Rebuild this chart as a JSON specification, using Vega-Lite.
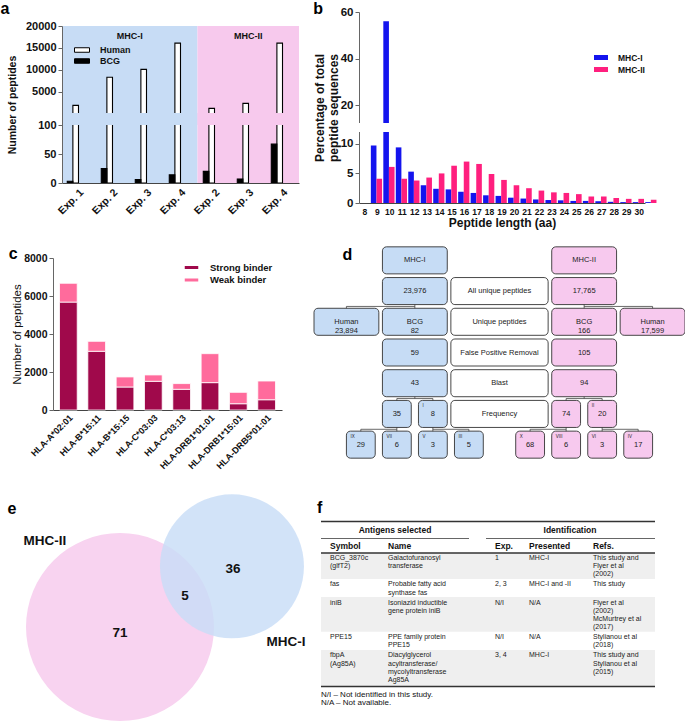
{
"$schema": "https://vega.github.io/schema/vega-lite/v6.json",
"background": "white",
"padding": 0,
"config": {
  "font": "Liberation Sans",
  "view": {"stroke": null},
  "axis": {"labelFont": "Liberation Sans", "titleFont": "Liberation Sans", "labelFontWeight": "bold", "titleFontWeight": "bold", "labelColor": "#111", "titleColor": "#111", "domainColor": "#666", "tickColor": "#666", "grid": false, "tickSize": 4, "labelPadding": 2},
  "legend": {"labelFont": "Liberation Sans", "labelFontWeight": "bold", "labelColor": "#111", "padding": 0},
  "title": {"font": "Liberation Sans", "fontSize": 16, "fontWeight": "bold", "anchor": "start", "frame": "bounds", "color": "#000"},
  "text": {"font": "Liberation Sans"}
},
"datasets": {
  "abg": [{"grp": "MHC-I", "start": 0, "end": 4, "mid": 2}, {"grp": "MHC-II", "start": 4, "end": 7, "mid": 5.5}],
  "abars": [
    {"key": "I1", "species": "Human", "value": 1900}, {"key": "I1", "species": "BCG", "value": 3},
    {"key": "I2", "species": "Human", "value": 8300}, {"key": "I2", "species": "BCG", "value": 25},
    {"key": "I3", "species": "Human", "value": 10100}, {"key": "I3", "species": "BCG", "value": 6},
    {"key": "I4", "species": "Human", "value": 16100}, {"key": "I4", "species": "BCG", "value": 14},
    {"key": "II2", "species": "Human", "value": 1200}, {"key": "II2", "species": "BCG", "value": 20},
    {"key": "II3", "species": "Human", "value": 2350}, {"key": "II3", "species": "BCG", "value": 7},
    {"key": "II4", "species": "Human", "value": 16100}, {"key": "II4", "species": "BCG", "value": 67}
  ]
},
"columns": 1, "align": "none", "spacing": 16,
"resolve": {"scale": {"color": "independent", "fill": "independent", "opacity": "independent", "size": "independent"}, "legend": {"color": "independent", "fill": "independent", "opacity": "independent", "size": "independent"}},
"concat": [
 {"columns": 2, "align": "none", "spacing": 14,
  "resolve": {"scale": {"color": "independent", "fill": "independent", "opacity": "independent", "size": "independent"}, "legend": {"color": "independent", "fill": "independent", "opacity": "independent", "size": "independent"}},
  "concat": [
  {
   "title": {"text": "a", "offset": -4.5, "dx": -7},
   "width": 237, "height": 171,
   "resolve": {"scale": {"x": "independent"}},
   "layer": [
    {"data": {"name": "abg"}, "mark": {"type": "rect"},
     "encoding": {
      "x": {"field": "start", "type": "quantitative", "scale": {"domain": [0, 7], "nice": false, "zero": false}, "axis": null},
      "x2": {"field": "end"},
      "y": {"datum": 0, "type": "quantitative", "scale": {"domain": [0, 100, 150, 20000], "range": [171, 113, 101, 14], "nice": false, "zero": false},
            "axis": {"values": [0, 50, 100, 5000, 10000, 15000, 20000], "format": "d", "title": "Number of peptides", "titleFontSize": 10.5, "labelFontSize": 11, "zindex": 1, "titlePadding": 8}},
      "y2": {"datum": 20000},
      "color": {"field": "grp", "type": "nominal", "scale": {"domain": ["MHC-I", "MHC-II"], "range": ["#c7dcf5", "#f7c9ed"]}, "legend": null}
     }},
    {"data": {"name": "abars"}, "mark": {"type": "bar", "stroke": "#000", "strokeWidth": 1.1},
     "encoding": {
      "x": {"field": "key", "type": "nominal", "sort": ["I1", "I2", "I3", "I4", "II2", "II3", "II4"], "scale": {"paddingInner": 0.34, "paddingOuter": 0.155},
            "axis": {"title": null, "labelAngle": -45, "labelExpr": "'Exp. ' + slice(datum.value, -1)", "ticks": false, "labelFontSize": 10.5, "domainColor": "#444", "zindex": 1, "labelPadding": 4}},
      "xOffset": {"field": "species", "type": "nominal", "sort": ["Human", "BCG"]},
      "y": {"field": "value", "type": "quantitative", "scale": {"domain": [0, 100, 150, 20000], "range": [171, 113, 101, 14], "nice": false, "zero": false},
            "axis": {"values": [0, 50, 100, 5000, 10000, 15000, 20000], "format": "d", "title": "Number of peptides", "titleFontSize": 10.5, "labelFontSize": 11, "zindex": 1, "titlePadding": 8}},
      "fill": {"field": "species", "type": "nominal", "scale": {"domain": ["Human", "BCG"], "range": ["#ffffff", "#000000"]},
               "legend": {"title": null, "orient": "none", "legendX": 14.5, "legendY": 32.5, "symbolType": "M-1.5,-0.45H1.5V0.45H-1.5Z", "symbolSize": 100, "symbolStrokeColor": "#000", "symbolStrokeWidth": 1, "labelFontSize": 9, "labelOffset": 12.5, "rowPadding": 0}}
     }},
    {"data": {"name": "abg"}, "mark": {"type": "rect"},
     "encoding": {
      "x": {"field": "start", "type": "quantitative", "scale": {"domain": [0, 7], "nice": false, "zero": false}, "axis": null},
      "x2": {"field": "end"},
      "y": {"datum": 100, "type": "quantitative",
            "axis": {"values": [0, 50, 100, 5000, 10000, 15000, 20000], "format": "d", "title": "Number of peptides", "titleFontSize": 10.5, "labelFontSize": 11, "zindex": 1, "titlePadding": 8}},
      "y2": {"datum": 150},
      "color": {"field": "grp", "type": "nominal", "legend": null}
     }},
    {"data": {"name": "abg"}, "mark": {"type": "text", "fontSize": 9, "fontWeight": "bold", "color": "#111"},
     "encoding": {
      "x": {"field": "mid", "type": "quantitative", "scale": {"domain": [0, 7], "nice": false, "zero": false}, "axis": null},
      "y": {"datum": 17700, "type": "quantitative",
            "axis": {"values": [0, 50, 100, 5000, 10000, 15000, 20000], "format": "d", "title": "Number of peptides", "titleFontSize": 10.5, "labelFontSize": 11, "zindex": 1, "titlePadding": 8}},
      "text": {"field": "grp"}
     }}
   ]
  },
  {
   "title": {"text": "b", "offset": -11},
   "width": 286, "height": 191,
   "resolve": {"scale": {"x": "independent"}},
   "layer": [
    {"data": {"values": [
      {"len": 8, "cls": "MHC-I", "pct": 9.7}, {"len": 9, "cls": "MHC-I", "pct": 56}, {"len": 10, "cls": "MHC-I", "pct": 9.4}, {"len": 11, "cls": "MHC-I", "pct": 5.3},
      {"len": 12, "cls": "MHC-I", "pct": 3.0}, {"len": 13, "cls": "MHC-I", "pct": 2.4}, {"len": 14, "cls": "MHC-I", "pct": 2.3}, {"len": 15, "cls": "MHC-I", "pct": 1.9},
      {"len": 16, "cls": "MHC-I", "pct": 1.7}, {"len": 17, "cls": "MHC-I", "pct": 1.3}, {"len": 18, "cls": "MHC-I", "pct": 1.2}, {"len": 19, "cls": "MHC-I", "pct": 0.9},
      {"len": 20, "cls": "MHC-I", "pct": 0.75}, {"len": 21, "cls": "MHC-I", "pct": 0.6}, {"len": 22, "cls": "MHC-I", "pct": 0.5}, {"len": 23, "cls": "MHC-I", "pct": 0.45},
      {"len": 24, "cls": "MHC-I", "pct": 0.35}, {"len": 25, "cls": "MHC-I", "pct": 0.35}, {"len": 26, "cls": "MHC-I", "pct": 0.3}, {"len": 27, "cls": "MHC-I", "pct": 0.2},
      {"len": 28, "cls": "MHC-I", "pct": 0.15}, {"len": 29, "cls": "MHC-I", "pct": 0.15}, {"len": 30, "cls": "MHC-I", "pct": 0.15},
      {"len": 8, "cls": "MHC-II", "pct": 4.1}, {"len": 9, "cls": "MHC-II", "pct": 6.1}, {"len": 10, "cls": "MHC-II", "pct": 4.1}, {"len": 11, "cls": "MHC-II", "pct": 3.8},
      {"len": 12, "cls": "MHC-II", "pct": 4.3}, {"len": 13, "cls": "MHC-II", "pct": 5.0}, {"len": 14, "cls": "MHC-II", "pct": 6.3}, {"len": 15, "cls": "MHC-II", "pct": 7.0},
      {"len": 16, "cls": "MHC-II", "pct": 6.6}, {"len": 17, "cls": "MHC-II", "pct": 4.9}, {"len": 18, "cls": "MHC-II", "pct": 3.9}, {"len": 19, "cls": "MHC-II", "pct": 3.0},
      {"len": 20, "cls": "MHC-II", "pct": 2.5}, {"len": 21, "cls": "MHC-II", "pct": 2.1}, {"len": 22, "cls": "MHC-II", "pct": 1.8}, {"len": 23, "cls": "MHC-II", "pct": 1.7},
      {"len": 24, "cls": "MHC-II", "pct": 1.5}, {"len": 25, "cls": "MHC-II", "pct": 1.1}, {"len": 26, "cls": "MHC-II", "pct": 1.1}, {"len": 27, "cls": "MHC-II", "pct": 0.85},
      {"len": 28, "cls": "MHC-II", "pct": 0.7}, {"len": 29, "cls": "MHC-II", "pct": 0.7}, {"len": 30, "cls": "MHC-II", "pct": 0.55}
     ]},
     "mark": {"type": "bar"},
     "encoding": {
      "x": {"field": "len", "type": "ordinal", "scale": {"paddingInner": 0.17, "paddingOuter": 0.05},
            "axis": {"title": "Peptide length (aa)", "labelAngle": 0, "ticks": false, "labelFontSize": 8.5, "titleFontSize": 12, "titlePadding": 2, "labelPadding": 4, "domainColor": "#444"}},
      "xOffset": {"field": "cls", "type": "nominal", "sort": ["MHC-I", "MHC-II"]},
      "y": {"field": "pct", "type": "quantitative", "scale": {"domain": [0, 12, 12.5, 60], "range": [191, 120, 111, 0], "nice": false, "zero": false},
            "axis": {"values": [0, 5, 10, 20, 40, 60], "title": ["Percentage of total", "peptide sequences"], "titleFontSize": 12, "labelFontSize": 11.5, "titlePadding": 0}},
      "color": {"field": "cls", "type": "nominal", "scale": {"domain": ["MHC-I", "MHC-II"], "range": ["#1414ee", "#ff1f7e"]},
                "legend": {"title": null, "orient": "none", "legendX": 236, "legendY": 39.5, "symbolType": "M-1.4,-0.5H1.4V0.5H-1.4Z", "symbolSize": 100, "labelFontSize": 8.5, "labelOffset": 11, "rowPadding": 1}}
     }},
    {"data": {"values": [{"gap": "break"}]}, "mark": {"type": "rect", "color": "white"},
     "encoding": {
      "x": {"datum": 0, "type": "quantitative", "scale": {"domain": [0, 1], "nice": false, "zero": false}, "axis": null},
      "x2": {"datum": 1},
      "y": {"datum": 12, "type": "quantitative",
            "axis": {"values": [0, 5, 10, 20, 40, 60], "title": ["Percentage of total", "peptide sequences"], "titleFontSize": 12, "labelFontSize": 11.5, "titlePadding": 0}},
      "y2": {"datum": 12.5}
     }}
   ]
  }
 ]},
 {"columns": 1, "align": "none", "spacing": 23,
  "resolve": {"scale": {"color": "independent", "fill": "independent", "opacity": "independent", "size": "independent"}, "legend": {"color": "independent", "fill": "independent", "opacity": "independent", "size": "independent"}},
  "concat": [
  {"columns": 2, "align": "none", "spacing": 22,
   "resolve": {"scale": {"color": "independent", "fill": "independent", "opacity": "independent", "size": "independent"}, "legend": {"color": "independent", "fill": "independent", "opacity": "independent", "size": "independent"}},
   "concat": [
   {
    "title": {"text": "c", "offset": -16.5, "dx": -3},
    "width": 220, "height": 165,
    "data": {"values": [
      {"allele": "HLA-A*02:01", "type": "Strong binder", "count": 5680}, {"allele": "HLA-A*02:01", "type": "Weak binder", "count": 990},
      {"allele": "HLA-B*15:11", "type": "Strong binder", "count": 3090}, {"allele": "HLA-B*15:11", "type": "Weak binder", "count": 525},
      {"allele": "HLA-B*15:15", "type": "Strong binder", "count": 1210}, {"allele": "HLA-B*15:15", "type": "Weak binder", "count": 530},
      {"allele": "HLA-C*03:03", "type": "Strong binder", "count": 1510}, {"allele": "HLA-C*03:03", "type": "Weak binder", "count": 335},
      {"allele": "HLA-C*03:13", "type": "Strong binder", "count": 1090}, {"allele": "HLA-C*03:13", "type": "Weak binder", "count": 300},
      {"allele": "HLA-DRB1*01:01", "type": "Strong binder", "count": 1440}, {"allele": "HLA-DRB1*01:01", "type": "Weak binder", "count": 1525},
      {"allele": "HLA-DRB1*15:01", "type": "Strong binder", "count": 330}, {"allele": "HLA-DRB1*15:01", "type": "Weak binder", "count": 600},
      {"allele": "HLA-DRB5*01:01", "type": "Strong binder", "count": 540}, {"allele": "HLA-DRB5*01:01", "type": "Weak binder", "count": 985}
    ]},
    "mark": {"type": "bar", "stroke": "white", "strokeWidth": 0.8},
    "encoding": {
     "x": {"field": "allele", "type": "nominal", "sort": ["HLA-A*02:01", "HLA-B*15:11", "HLA-B*15:15", "HLA-C*03:03", "HLA-C*03:13", "HLA-DRB1*01:01", "HLA-DRB1*15:01", "HLA-DRB5*01:01"],
           "scale": {"paddingInner": 0.375, "paddingOuter": 0.23, "range": [-9, 220]},
           "axis": {"title": null, "labelAngle": -45, "ticks": false, "labelFontSize": 9, "labelPadding": 3, "domainColor": "#444"}},
     "y": {"field": "count", "type": "quantitative", "stack": "zero", "scale": {"domain": [0, 8000], "nice": false, "range": [165, 13]},
           "axis": {"values": [0, 2000, 4000, 6000, 8000], "format": "d", "title": "Number of peptides", "titleFontWeight": "normal", "titleFontSize": 11.5, "labelFontSize": 10.5, "titlePadding": 1, "offset": 9}},
     "color": {"field": "type", "type": "nominal", "scale": {"domain": ["Strong binder", "Weak binder"], "range": ["#a0094b", "#ff6b9c"]},
               "legend": {"title": null, "orient": "none", "legendX": 123.5, "legendY": 16.5, "symbolType": "M-1.5,-0.45H1.5V0.45H-1.5Z", "symbolSize": 100, "labelFontSize": 9.5, "labelOffset": 12.5, "rowPadding": 0.5}},
     "order": {"field": "type", "sort": "ascending"}
    }
   },
   {
    "title": {"text": "d", "offset": -18, "dx": 29},
    "width": 371, "height": 215,
    "resolve": {"scale": {"y": "independent"}},
    "layer": [
     {"data": {"values": [
       {"x": 2.8, "x2": 2.8, "y": 2, "y2": 3}, {"x": 0.9, "x2": 2.8, "y": 2.5, "y2": 2.5}, {"x": 0.9, "x2": 0.9, "y": 2.5, "y2": 3},
       {"x": 7.5, "x2": 7.5, "y": 2, "y2": 3}, {"x": 7.5, "x2": 9.4, "y": 2.5, "y2": 2.5}, {"x": 9.4, "x2": 9.4, "y": 2.5, "y2": 3},
       {"x": 2.8, "x2": 2.8, "y": 5, "y2": 5.5}, {"x": 2.3, "x2": 3.3, "y": 5.5, "y2": 5.5}, {"x": 2.3, "x2": 2.3, "y": 5.5, "y2": 6}, {"x": 3.3, "x2": 3.3, "y": 5.5, "y2": 6},
       {"x": 7.5, "x2": 7.5, "y": 5, "y2": 5.5}, {"x": 7.0, "x2": 8.0, "y": 5.5, "y2": 5.5}, {"x": 7.0, "x2": 7.0, "y": 5.5, "y2": 6}, {"x": 8.0, "x2": 8.0, "y": 5.5, "y2": 6},
       {"x": 2.3, "x2": 2.3, "y": 6, "y2": 7}, {"x": 1.3, "x2": 2.3, "y": 6.5, "y2": 6.5}, {"x": 1.3, "x2": 1.3, "y": 6.5, "y2": 7},
       {"x": 3.3, "x2": 3.3, "y": 6, "y2": 7}, {"x": 3.3, "x2": 4.3, "y": 6.5, "y2": 6.5}, {"x": 4.3, "x2": 4.3, "y": 6.5, "y2": 7},
       {"x": 7.0, "x2": 7.0, "y": 6, "y2": 7}, {"x": 6.0, "x2": 7.0, "y": 6.5, "y2": 6.5}, {"x": 6.0, "x2": 6.0, "y": 6.5, "y2": 7},
       {"x": 8.0, "x2": 8.0, "y": 6, "y2": 7}, {"x": 8.0, "x2": 9.0, "y": 6.5, "y2": 6.5}, {"x": 9.0, "x2": 9.0, "y": 6.5, "y2": 7}
      ]},
      "mark": {"type": "rule", "color": "#444", "strokeWidth": 0.8},
      "encoding": {
       "x": {"field": "x", "type": "quantitative", "scale": {"domain": [0, 10.3], "nice": false, "zero": false}, "axis": null},
       "x2": {"field": "x2"},
       "y": {"field": "y", "type": "quantitative", "scale": {"domain": [0.5, 7.5], "reverse": true, "nice": false, "zero": false}, "axis": null},
       "y2": {"field": "y2"}
      }},
     {"data": {"values": [
       {"row": 1, "x0": 1.9, "x1": 3.7, "cx": 2.8, "kind": "I", "label": "MHC-I"},
       {"row": 1, "x0": 6.6, "x1": 8.4, "cx": 7.5, "kind": "II", "label": "MHC-II"},
       {"row": 2, "x0": 1.9, "x1": 3.7, "cx": 2.8, "kind": "I", "label": "23,976"},
       {"row": 2, "x0": 3.8, "x1": 6.5, "cx": 5.15, "kind": "W", "label": "All unique peptides"},
       {"row": 2, "x0": 6.6, "x1": 8.4, "cx": 7.5, "kind": "II", "label": "17,765"},
       {"row": 3, "x0": 0, "x1": 1.8, "cx": 0.9, "kind": "I", "label": "Human\n23,894"},
       {"row": 3, "x0": 1.9, "x1": 3.7, "cx": 2.8, "kind": "I", "label": "BCG\n82"},
       {"row": 3, "x0": 3.8, "x1": 6.5, "cx": 5.15, "kind": "W", "label": "Unique peptides"},
       {"row": 3, "x0": 6.6, "x1": 8.4, "cx": 7.5, "kind": "II", "label": "BCG\n166"},
       {"row": 3, "x0": 8.5, "x1": 10.3, "cx": 9.4, "kind": "II", "label": "Human\n17,599"},
       {"row": 4, "x0": 1.9, "x1": 3.7, "cx": 2.8, "kind": "I", "label": "59"},
       {"row": 4, "x0": 3.8, "x1": 6.5, "cx": 5.15, "kind": "W", "label": "False Positive Removal"},
       {"row": 4, "x0": 6.6, "x1": 8.4, "cx": 7.5, "kind": "II", "label": "105"},
       {"row": 5, "x0": 1.9, "x1": 3.7, "cx": 2.8, "kind": "I", "label": "43"},
       {"row": 5, "x0": 3.8, "x1": 6.5, "cx": 5.15, "kind": "W", "label": "Blast"},
       {"row": 5, "x0": 6.6, "x1": 8.4, "cx": 7.5, "kind": "II", "label": "94"},
       {"row": 6, "x0": 1.9, "x1": 2.7, "cx": 2.3, "kind": "I", "label": "35"},
       {"row": 6, "x0": 2.9, "x1": 3.7, "cx": 3.3, "kind": "I", "label": "8", "num": "I"},
       {"row": 6, "x0": 3.8, "x1": 6.5, "cx": 5.15, "kind": "W", "label": "Frequency"},
       {"row": 6, "x0": 6.6, "x1": 7.4, "cx": 7.0, "kind": "II", "label": "74"},
       {"row": 6, "x0": 7.6, "x1": 8.4, "cx": 8.0, "kind": "II", "label": "20", "num": "II"},
       {"row": 7, "x0": 0.9, "x1": 1.7, "cx": 1.3, "kind": "I", "label": "29", "num": "IX"},
       {"row": 7, "x0": 1.9, "x1": 2.7, "cx": 2.3, "kind": "I", "label": "6", "num": "VII"},
       {"row": 7, "x0": 2.9, "x1": 3.7, "cx": 3.3, "kind": "I", "label": "3", "num": "V"},
       {"row": 7, "x0": 3.9, "x1": 4.7, "cx": 4.3, "kind": "I", "label": "5", "num": "III"},
       {"row": 7, "x0": 5.6, "x1": 6.4, "cx": 6.0, "kind": "II", "label": "68", "num": "X"},
       {"row": 7, "x0": 6.6, "x1": 7.4, "cx": 7.0, "kind": "II", "label": "6", "num": "VIII"},
       {"row": 7, "x0": 7.6, "x1": 8.4, "cx": 8.0, "kind": "II", "label": "3", "num": "VI"},
       {"row": 7, "x0": 8.6, "x1": 9.4, "cx": 9.0, "kind": "II", "label": "17", "num": "IV"}
      ]},
      "layer": [
       {"mark": {"type": "rect", "cornerRadius": 4, "stroke": "#333", "strokeWidth": 0.9},
        "encoding": {
         "x": {"field": "x0", "type": "quantitative", "scale": {"domain": [0, 10.3], "nice": false, "zero": false}, "axis": null},
         "x2": {"field": "x1"},
         "y": {"field": "row", "type": "ordinal", "scale": {"domain": [1, 2, 3, 4, 5, 6, 7], "paddingInner": 0.12, "paddingOuter": 0.06}, "axis": null},
         "color": {"field": "kind", "type": "nominal", "scale": {"domain": ["I", "II", "W"], "range": ["#c6dcf5", "#f7c9ee", "#ffffff"]}, "legend": null}
        }},
       {"mark": {"type": "text", "fontSize": 7.5, "color": "#222", "lineBreak": "\n", "baseline": "middle", "lineHeight": 9},
        "encoding": {
         "x": {"field": "cx", "type": "quantitative", "axis": null},
         "y": {"field": "row", "type": "ordinal", "axis": null},
         "text": {"field": "label"}
        }},
       {"transform": [{"filter": "datum.num"}],
        "mark": {"type": "text", "fontSize": 4.5, "color": "#222", "align": "left", "dx": 4, "dy": -8},
        "encoding": {
         "x": {"field": "x0", "type": "quantitative", "axis": null},
         "y": {"field": "row", "type": "ordinal", "axis": null},
         "text": {"field": "num"}
        }}
      ]}
    ]
   }
  ]},
  {"columns": 2, "align": "none", "spacing": 11,
   "resolve": {"scale": {"color": "independent", "fill": "independent", "opacity": "independent", "size": "independent"}, "legend": {"color": "independent", "fill": "independent", "opacity": "independent", "size": "independent"}},
   "concat": [
   {
    "title": {"text": "e", "offset": -22.5, "dx": -16},
    "width": 240, "height": 228,
    "layer": [
     {"data": {"values": [{"set": "MHC-II", "cx": 1.064, "cy": 1.415, "n": 76}, {"set": "MHC-I", "cx": 2.255, "cy": 0.769, "n": 41}]},
      "mark": {"type": "point", "filled": true, "shape": "circle"},
      "encoding": {
       "x": {"field": "cx", "type": "quantitative", "scale": {"domain": [0.447, 3], "nice": false, "zero": false}, "axis": null},
       "y": {"field": "cy", "type": "quantitative", "scale": {"domain": [0, 2.4255], "reverse": true, "nice": false, "zero": false}, "axis": null},
       "size": {"field": "n", "type": "quantitative", "scale": {"domain": [41, 76], "range": [20736, 35344], "zero": false}, "legend": null},
       "color": {"field": "set", "type": "nominal", "scale": {"domain": ["MHC-II", "MHC-I"], "range": ["#f8d3f0", "#c8ddf7"]}, "legend": null},
       "opacity": {"field": "set", "type": "nominal", "scale": {"domain": ["MHC-II", "MHC-I"], "range": [1, 0.82]}, "legend": null}
      }},
     {"data": {"values": [
       {"t": "MHC-II", "x": 0.266, "y": 0.5}, {"t": "MHC-I", "x": 2.83, "y": 1.571},
       {"t": "71", "x": 1.064, "y": 1.476}, {"t": "36", "x": 2.266, "y": 0.801}, {"t": "5", "x": 1.755, "y": 1.088}
      ]},
      "mark": {"type": "text", "fontSize": 13.5, "fontWeight": "bold", "color": "#111"},
      "encoding": {
       "x": {"field": "x", "type": "quantitative", "axis": null},
       "y": {"field": "y", "type": "quantitative", "axis": null},
       "text": {"field": "t"}
      }}
    ]
   },
   {
    "title": {"text": "f", "offset": -22},
    "width": 349, "height": 228,
    "layer": [
     {"data": {"values": [{"r": 1, "y": 59, "y2": 84.9}, {"r": 3, "y": 103.1, "y2": 137.7}, {"r": 5, "y": 155.9, "y2": 192.5}]},
      "mark": {"type": "rect", "color": "#efefef"},
      "encoding": {
       "x": {"datum": 4, "type": "quantitative", "scale": {"domain": [0, 349], "nice": false, "zero": false}, "axis": null},
       "x2": {"datum": 338},
       "y": {"field": "y", "type": "quantitative", "scale": {"domain": [0, 228], "reverse": true, "nice": false, "zero": false}, "axis": null},
       "y2": {"field": "y2"}
      }},
     {"data": {"values": [{"x": 4, "x2": 338, "y": 27.5}, {"x": 4, "x2": 338, "y": 59}, {"x": 4, "x2": 338, "y": 192.5}]},
      "mark": {"type": "rule", "color": "#333", "strokeWidth": 1.4},
      "encoding": {
       "x": {"field": "x", "type": "quantitative", "axis": null},
       "x2": {"field": "x2"},
       "y": {"field": "y", "type": "quantitative", "axis": null}
      }},
     {"data": {"values": [{"x": 4, "x2": 152, "y": 44.5}, {"x": 169, "x2": 338, "y": 44.5}]},
      "mark": {"type": "rule", "color": "#666", "strokeWidth": 1.1},
      "encoding": {
       "x": {"field": "x", "type": "quantitative", "axis": null},
       "x2": {"field": "x2"},
       "y": {"field": "y", "type": "quantitative", "axis": null}
      }},
     {"data": {"values": [{"t": "Antigens selected", "x": 78, "y": 36}, {"t": "Identification", "x": 253, "y": 36}]},
      "mark": {"type": "text", "fontSize": 8.5, "fontWeight": "bold", "color": "#111", "align": "center", "baseline": "middle"},
      "encoding": {
       "x": {"field": "x", "type": "quantitative", "axis": null},
       "y": {"field": "y", "type": "quantitative", "axis": null},
       "text": {"field": "t"}
      }},
     {"data": {"values": [{"t": "Symbol", "x": 13, "y": 52}, {"t": "Name", "x": 71, "y": 52}, {"t": "Exp.", "x": 178, "y": 52}, {"t": "Presented", "x": 212, "y": 52}, {"t": "Refs.", "x": 276, "y": 52}]},
      "mark": {"type": "text", "fontSize": 8.5, "fontWeight": "bold", "color": "#111", "align": "left", "baseline": "middle"},
      "encoding": {
       "x": {"field": "x", "type": "quantitative", "axis": null},
       "y": {"field": "y", "type": "quantitative", "axis": null},
       "text": {"field": "t"}
      }},
     {"data": {"values": [
       {"t": "BCG_3870c\n(glfT2)", "x": 13, "y": 63.5}, {"t": "Galactofuranosyl\ntransferase", "x": 71, "y": 63.5}, {"t": "1", "x": 178, "y": 63.5}, {"t": "MHC-I", "x": 212, "y": 63.5}, {"t": "This study and\nFlyer et al\n(2002)", "x": 276, "y": 63.5},
       {"t": "fas", "x": 13, "y": 89.9}, {"t": "Probable fatty acid\nsynthase fas", "x": 71, "y": 89.9}, {"t": "2, 3", "x": 178, "y": 89.9}, {"t": "MHC-I and -II", "x": 212, "y": 89.9}, {"t": "This study", "x": 276, "y": 89.9},
       {"t": "iniB", "x": 13, "y": 108.1}, {"t": "Isoniazid inductible\ngene protein iniB", "x": 71, "y": 108.1}, {"t": "N/I", "x": 178, "y": 108.1}, {"t": "N/A", "x": 212, "y": 108.1}, {"t": "Flyer et al\n(2002)\nMcMurtrey et al\n(2017)", "x": 276, "y": 108.1},
       {"t": "PPE15", "x": 13, "y": 142.7}, {"t": "PPE family protein\nPPE15", "x": 71, "y": 142.7}, {"t": "N/I", "x": 178, "y": 142.7}, {"t": "N/A", "x": 212, "y": 142.7}, {"t": "Stylianou et al\n(2018)", "x": 276, "y": 142.7},
       {"t": "fbpA\n(Ag85A)", "x": 13, "y": 160.9}, {"t": "Diacylglycerol\nacyltransferase/\nmycolyltransferase\nAg85A", "x": 71, "y": 160.9}, {"t": "3, 4", "x": 178, "y": 160.9}, {"t": "MHC-I", "x": 212, "y": 160.9}, {"t": "This study and\nStylianou et al\n(2015)", "x": 276, "y": 160.9}
      ]},
      "mark": {"type": "text", "fontSize": 7, "color": "#222", "align": "left", "baseline": "alphabetic", "dy": 2.5, "lineBreak": "\n", "lineHeight": 8.2},
      "encoding": {
       "x": {"field": "x", "type": "quantitative", "axis": null},
       "y": {"field": "y", "type": "quantitative", "axis": null},
       "text": {"field": "t"}
      }},
     {"data": {"values": [{"t": "N/I – Not identified in this study.", "x": 4, "y": 200.5}, {"t": "N/A – Not available.", "x": 4, "y": 208.7}]},
      "mark": {"type": "text", "fontSize": 8, "color": "#111", "align": "left", "baseline": "middle"},
      "encoding": {
       "x": {"field": "x", "type": "quantitative", "axis": null},
       "y": {"field": "y", "type": "quantitative", "axis": null},
       "text": {"field": "t"}
      }}
    ]
   }
  ]}
 ]}
]
}
